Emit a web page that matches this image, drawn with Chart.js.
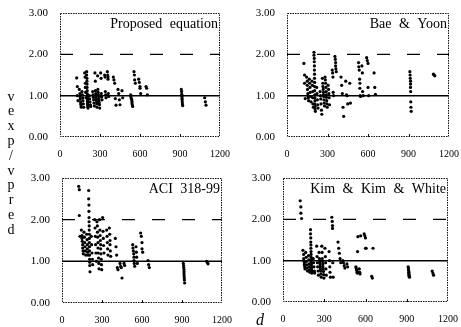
<!DOCTYPE html>
<html>
<head>
<meta charset="utf-8">
<script src="https://cdn.jsdelivr.net/npm/chart.js@4.4.0/dist/chart.umd.min.js"></script>
<style>
body { margin: 0; background: #fff; }
canvas { position: absolute; }
</style>
</head>
<body>
<canvas id="c1" width="232" height="152" style="left:0px;top:5px"></canvas>
<canvas id="c2" width="214" height="152" style="left:247px;top:5px"></canvas>
<canvas id="c3" width="234" height="175" style="left:0px;top:148px"></canvas>
<canvas id="c4" width="217" height="157" style="left:243px;top:170px"></canvas>
<script>
// effective depth d of each specimen (same specimens in every panel)
const depth = [
    125, 130, 130, 135,
    145, 150, 150, 152, 155, 155, 158, 160,
    165, 168, 170, 172, 175, 178,
    185, 188, 190, 190, 192, 195,
    200, 200, 202, 202, 203, 203, 204, 204, 205, 205, 205, 206, 206, 207, 207, 208, 208, 210,
    220, 222, 225, 228, 230,
    245, 248, 250, 252, 255, 258,
    262, 265, 266, 268, 270, 270, 272, 274, 276, 278,
    282, 284, 286, 288, 290, 290, 292, 294, 296, 298,
    305, 308, 310, 312, 315,
    335, 338, 340, 342, 345,
    355, 358, 360, 360, 362, 365,
    400, 405, 410, 415, 420,
    435, 440, 445, 450,
    465, 470,
    530, 532, 535, 538, 540, 540, 542, 545,
    555, 558, 560, 565,
    590, 595, 600, 600, 605,
    645, 650, 655,
    910, 912, 913, 915, 915, 915, 916, 917, 918, 920,
    1085, 1090, 1095
];

// vexp / vpred for each method
const proposed = [
    1.43, 1.22, 1.00, 0.88,
    1.15, 1.05, 0.98, 0.92, 0.85, 0.80, 0.75, 0.72,
    1.10, 1.02, 0.95, 0.88, 0.80, 0.72,
    1.55, 1.45, 1.30, 1.20, 1.08, 0.95,
    1.58, 1.50, 1.42, 1.35, 1.28, 1.20, 1.12, 1.05, 1.00, 0.97, 0.93, 0.90, 0.86, 0.83, 0.80, 0.77, 0.73, 0.70,
    1.00, 0.92, 0.85, 0.78, 0.74,
    1.10, 1.02, 0.96, 0.90, 0.82, 0.75,
    1.55, 1.35, 1.12, 1.05, 1.00, 0.95, 0.90, 0.85, 0.80, 0.72,
    1.48, 1.15, 1.08, 1.02, 0.98, 0.93, 0.88, 0.83, 0.78, 0.70,
    1.55, 1.42, 1.05, 0.97, 0.90,
    1.50, 1.45, 1.10, 1.02, 0.95,
    1.58, 1.50, 1.45, 1.40, 1.05, 0.98,
    1.45, 1.38, 1.30, 0.93, 0.77,
    1.15, 1.05, 0.90, 0.78,
    1.12, 0.95,
    1.02, 0.97, 0.93, 0.90, 0.86, 0.82, 0.78, 0.74,
    1.58, 1.50, 1.38, 1.30,
    1.40, 1.32, 1.22, 1.18, 1.05,
    1.22, 1.18, 1.02,
    1.15, 1.10, 1.03, 1.00, 0.97, 0.93, 0.90, 0.85, 0.80, 0.76,
    0.95, 0.85, 0.77
];
const baeYoon = [
    1.78, 1.50, 1.30, 0.93,
    1.45, 1.35, 1.25, 1.15, 1.05, 1.00, 0.95, 0.88,
    1.40, 1.30, 1.20, 1.08, 0.98, 0.85,
    1.35, 1.25, 1.10, 0.95, 0.80, 0.72,
    2.05, 1.98, 1.90, 1.82, 1.72, 1.62, 1.52, 1.42, 1.32, 1.22, 1.12, 1.02, 0.95, 0.88, 0.80, 0.74, 0.68, 0.62,
    1.20, 1.05, 0.90, 0.78, 0.70,
    1.10, 1.00, 0.92, 0.80, 0.65, 0.55,
    1.42, 1.30, 1.22, 1.15, 1.08, 1.02, 0.98, 0.90, 0.82, 0.75,
    1.45, 1.38, 1.30, 1.20, 1.10, 1.02, 0.96, 0.88, 0.80, 0.72,
    1.25, 1.15, 1.05, 0.95, 0.78,
    1.62, 1.55, 1.45, 1.08, 1.00,
    1.95, 1.88, 1.80, 1.72, 1.65, 1.58,
    1.45, 1.25, 1.05, 0.72, 0.50,
    1.35, 1.02, 1.00, 0.80,
    1.30, 0.82,
    1.80, 1.70, 1.62, 1.40, 1.30, 1.18, 1.00, 0.98,
    1.72, 1.55, 1.10, 1.00,
    1.92, 1.85, 1.78, 1.20, 1.00,
    1.55, 1.20, 1.03,
    1.58, 1.50, 1.42, 1.35, 1.28, 1.20, 1.10, 0.85, 0.72, 0.62,
    1.52, 1.50, 1.48
];
const aci = [
    2.80, 2.72, 2.10, 1.60,
    1.75, 1.62, 1.55, 1.48, 1.40, 1.32, 1.25, 1.18,
    1.70, 1.58, 1.45, 1.35, 1.25, 1.15,
    1.65, 1.52, 1.40, 1.30, 1.22, 1.15,
    2.70, 2.50, 2.35, 2.20, 2.05, 1.95, 1.85, 1.75, 1.65, 1.55, 1.45, 1.35, 1.25, 1.15, 1.05, 0.98, 0.90, 0.75,
    1.60, 1.40, 1.20, 1.05, 0.92,
    2.00, 1.80, 1.60, 1.40, 1.20, 1.00,
    1.95, 1.85, 1.70, 1.58, 1.45, 1.32, 1.20, 1.08, 0.95, 0.82,
    2.00, 1.75, 1.62, 1.50, 1.40, 1.30, 1.18, 1.05, 0.92, 0.80,
    2.05, 1.72, 1.55, 1.38, 1.20,
    1.75, 1.60, 1.45, 1.30, 1.15,
    1.80, 1.65, 1.50, 1.40, 1.25, 1.12,
    1.55, 1.35, 1.15, 0.85, 0.80,
    0.95, 0.88, 0.85, 0.60,
    0.95, 0.90,
    1.40, 1.32, 1.25, 1.18, 1.10, 1.02, 0.95, 0.88,
    1.35, 1.22, 1.10, 0.95,
    1.68, 1.60, 1.45, 1.30, 1.22,
    1.02, 0.92, 0.85,
    0.95, 0.90, 0.85, 0.80, 0.75, 0.70, 0.65, 0.60, 0.55, 0.48,
    1.00, 0.97, 0.94
];
const kimKimWhite = [
    2.45, 2.30, 2.15, 2.02,
    1.25, 1.15, 1.05, 1.00, 0.95, 0.90, 0.85, 0.80,
    1.20, 1.08, 0.98, 0.90, 0.82, 0.75,
    1.12, 1.02, 0.92, 0.85, 0.78, 0.72,
    1.75, 1.65, 1.55, 1.45, 1.38, 1.30, 1.22, 1.15, 1.08, 1.02, 0.97, 0.92, 0.88, 0.84, 0.80, 0.76, 0.73, 0.70,
    1.05, 0.95, 0.85, 0.75, 0.70,
    1.35, 1.10, 0.95, 0.85, 0.75, 0.65,
    1.20, 1.05, 1.00, 0.95, 0.90, 0.85, 0.80, 0.75, 0.68, 0.60,
    1.35, 1.20, 1.05, 0.98, 0.92, 0.86, 0.80, 0.74, 0.66, 0.58,
    1.30, 1.10, 0.95, 0.80, 0.65,
    1.22, 1.00, 0.85, 0.72, 0.60,
    2.05, 1.95, 1.85, 1.78, 0.95, 0.60,
    1.45, 1.30, 1.18, 1.05, 0.95,
    1.00, 0.95, 0.88, 0.82,
    0.92, 0.85,
    0.85, 0.82, 0.78, 0.75, 0.72, 0.70, 1.22, 1.58,
    0.80, 0.72, 0.68, 1.60,
    1.65, 1.60, 1.55, 1.30, 1.30,
    0.62, 0.58, 1.30,
    0.85, 0.82, 0.78, 0.75, 0.72, 0.70, 0.67, 0.64, 0.62, 0.60,
    0.75, 0.70, 0.65
];

const panelNames = ['Proposed equation', 'Bae & Yoon', 'ACI 318-99', 'Kim & Kim & White'];
const xTicks = [0, 300, 600, 900, 1200];
const yTicks = [0, 1, 2, 3];
const solidLevel = 1;
const dashedLevel = 2;
const yTitle = 'vexp/vpred';
const xTitle = 'd';

const serif = "'Liberation Serif', 'DejaVu Serif', serif";

// dotted box, small inward ticks, method name and any loose axis text
const framePlugin = {
    id: 'frame',
    afterDraw(chart, args, opts) {
        const { ctx, chartArea: a, scales } = chart;
        ctx.save();
        ctx.strokeStyle = '#111';
        ctx.lineWidth = 1;
        ctx.setLineDash([1.5, 1]);
        ctx.beginPath();
        ctx.rect(a.left + 0.5, a.top + 0.5, a.right - a.left - 1, a.bottom - a.top - 1);
        ctx.stroke();
        ctx.setLineDash([]);
        for (const v of xTicks.slice(1, -1)) {
            const x = Math.round(scales.x.getPixelForValue(v)) + 0.5;
            ctx.beginPath();
            ctx.moveTo(x, a.bottom);
            ctx.lineTo(x, a.bottom - 3);
            ctx.stroke();
        }
        ctx.fillStyle = '#000';
        ctx.font = '14px ' + serif;
        if ('wordSpacing' in ctx) ctx.wordSpacing = '4px';
        ctx.textAlign = 'right';
        ctx.textBaseline = 'middle';
        ctx.fillText(opts.text, a.right - 2, a.top + 11);
        if ('wordSpacing' in ctx) ctx.wordSpacing = '0px';
        ctx.textAlign = 'center';
        for (const item of opts.extra || []) {
            ctx.font = item.font + ' ' + serif;
            ctx.fillText(item.text, item.x, item.y);
        }
        ctx.restore();
    }
};

// stacked letters of the y title, split over the two left panels
const letters = yTitle.split('');
const stack = (from, to, top) => letters.slice(from, to).map((ch, k) => ({
    text: ch, x: 11, y: 97 + (from + k) * 14.8 - top, font: '14px'
}));

const makePanel = (id, name, ratios, pad, extra) => {
    new Chart(document.getElementById(id), {
        type: 'scatter',
        data: {
            datasets: [{
                data: depth.map((d, i) => ({ x: d, y: ratios[i] })),
                pointRadius: 1.6,
                pointBackgroundColor: '#000',
                pointBorderWidth: 0,
                borderWidth: 0
            }, {
                type: 'line',
                data: [{ x: xTicks[0], y: solidLevel }, { x: xTicks[xTicks.length - 1], y: solidLevel }],
                borderColor: '#000',
                borderWidth: 1.5,
                pointRadius: 0
            }, {
                type: 'line',
                data: [{ x: xTicks[0], y: dashedLevel }, { x: xTicks[xTicks.length - 1], y: dashedLevel }],
                borderColor: '#000',
                borderWidth: 1.2,
                borderDash: [13, 17],
                pointRadius: 0
            }]
        },
        options: {
            responsive: false,
            animation: false,
            layout: {
                padding: { top: pad.top, right: 12, left: pad.left, bottom: pad.bottom }
            },
            plugins: {
                legend: { display: false },
                tooltip: { enabled: false },
                frame: { text: name, extra: extra }
            },
            scales: {
                x: {
                    min: xTicks[0],
                    max: xTicks[xTicks.length - 1],
                    afterBuildTicks: (axis) => { axis.ticks = xTicks.map(v => ({ value: v })); },
                    afterFit: (axis) => {
                        axis.height = 20;
                        axis.paddingLeft = 0;
                        axis.paddingRight = 0;
                    },
                    grid: { display: false, drawTicks: false },
                    border: { display: false },
                    ticks: {
                        padding: 11,
                        color: '#000',
                        maxRotation: 0,
                        autoSkip: false,
                        font: { family: serif, size: 10 },
                        callback: (v) => String(v)
                    }
                },
                y: {
                    min: yTicks[0],
                    max: yTicks[yTicks.length - 1],
                    afterBuildTicks: (axis) => { axis.ticks = yTicks.map(v => ({ value: v })); },
                    afterFit: (axis) => {
                        axis.width = 40;
                        axis.paddingTop = 0;
                        axis.paddingBottom = 0;
                    },
                    grid: { display: false, drawTicks: false },
                    border: { display: false },
                    ticks: {
                        padding: 12,
                        color: '#000',
                        font: { family: serif, size: 11 },
                        callback: (v) => Number(v).toFixed(2)
                    }
                }
            }
        },
        plugins: [framePlugin]
    });
};

makePanel('c1', panelNames[0], proposed, { top: 8, left: 20, bottom: 0 }, stack(0, 4, 5));
makePanel('c2', panelNames[1], baeYoon, { top: 8, left: 0, bottom: 0 }, []);
makePanel('c3', panelNames[2], aci, { top: 30, left: 22, bottom: 0 }, stack(4, 10, 148));
makePanel('c4', panelNames[3], kimKimWhite, { top: 8, left: 0, bottom: 5 },
    [{ text: xTitle, x: 17, y: 151, font: 'italic 16px' }]);
</script>
</body>
</html>
